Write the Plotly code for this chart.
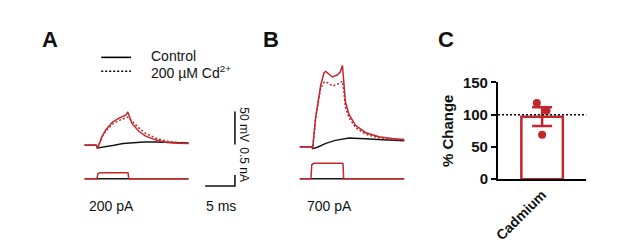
import plotly.graph_objects as go

W, H = 617, 243
RED = "#c3262b"
BLACK = "#151515"
FONT = "Arial, 'Liberation Sans', Helvetica, sans-serif"

# ---------------- data ----------------
# Panel A: 200 pA injection. time (ms), membrane potential (mV)
a_time = [0, 2.0, 2.2, 3.0, 3.6, 4.7, 5.8, 6.95, 7.3, 8.0, 9.2, 10.3, 11.95, 13.6, 15.8, 17.5]
a_ctrl = [-65, -65, -69.9, -51.2, -41.8, -30.1, -23.9, -19.6, -14.5, -31.9, -44.2, -51.2, -56.8, -60.5, -61.9, -62.2]
a_cd = [-65, -65, -69.9, -52.0, -43.5, -33.0, -27.5, -24.0, -22.5, -28.5, -39.0, -47.0, -54.0, -58.5, -61.2, -62.0]
a_black_time = [0, 2.0, 2.2, 3.5, 5.0, 6.5, 8.0, 10.0, 12.0, 14.0, 17.5]
a_black = [-65, -65, -69, -67.5, -65, -62.5, -61, -60, -60, -60.5, -61.5]

# Panel B: 700 pA injection
b_time = [0, 2.0, 2.2, 2.7, 3.55, 4.1, 4.4, 5.0, 5.5, 6.3, 6.8, 7.2, 7.45, 7.7, 8.3, 9.4, 11.05, 13.3, 15.5, 17.6]
b_ctrl = [-65, -65, -67.3, -20.9, 28.0, 47.0, 49.0, 43.5, 40.5, 43.5, 47.5, 58.0, 26.1, 2.6, -16.2, -32.7, -43.5, -50.0, -52.8, -54.0]
b_cd = [-65, -65, -67.3, -20.9, 24.0, 32.5, 33.5, 29.5, 27.0, 29.0, 31.5, 34.0, 18.0, -5.0, -21.0, -36.0, -46.0, -51.5, -54.0, -55.0]
b_black_time = [0, 2.0, 2.2, 3.0, 4.4, 6.0, 8.3, 10.0, 11.0, 14.0, 17.6]
b_black = [-65, -65, -68, -66, -60, -55.5, -52, -52, -53, -54.5, -56]

# injected current steps (pA)
a_cur_time = [0, 2.1, 2.3, 2.6, 7.1, 7.35, 7.45, 17.5]
a_cur = [0, 0, 170, 200, 200, 190, 0, 0]
b_cur_time = [0, 1.9, 2.05, 2.4, 7.1, 7.3, 7.4, 17.6]
b_cur = [0, 0, 640, 700, 700, 680, 0, 0]
zero_time = [0, 17.5]
zero_cur = [0, 0]

# scale bars
scale_ms = 5
scale_mv = 50
scale_pa = 500

# Panel C
c_category = ["Cadmium"]
c_mean = [97]
c_sem = [14.5]
c_points = [118, 106, 69]
c_jitter = [-0.06, 0.05, 0.0]
c_ref_line = 100
c_ticks = [0, 50, 100, 150]

# ---------------- layout helpers ----------------
def fx(x):
    return x / W


def fy(y):
    return 1 - y / H


fig = go.Figure()

def line(x, y, xa, ya, color, dash=None, width=1.5):
    fig.add_trace(go.Scatter(x=x, y=y, xaxis=xa, yaxis=ya, mode="lines",
                             line=dict(color=color, width=width, dash=dash),
                             showlegend=False, hoverinfo="skip"))

# Panel A voltage
line(a_black_time, a_black, "x", "y", BLACK)
line(a_time, a_ctrl, "x", "y", RED)
line(a_time, a_cd, "x", "y", RED, dash="2px,2px")
# Panel B voltage
line(b_black_time, b_black, "x2", "y2", BLACK)
line(b_time, b_ctrl, "x2", "y2", RED)
line(b_time, b_cd, "x2", "y2", RED, dash="2px,2px")
# currents
line(zero_time, zero_cur, "x", "y3", BLACK)
line(a_cur_time, a_cur, "x", "y3", RED)
line(zero_time, zero_cur, "x2", "y4", BLACK)
line(b_cur_time, b_cur, "x2", "y4", RED)

# scale bars
SB_T = 25.3
SB_V0 = -64
SB_I0 = -330
line([SB_T, SB_T], [SB_V0, SB_V0 + scale_mv], "x", "y", BLACK, width=1.6)
line([SB_T - scale_ms, SB_T, SB_T], [SB_I0, SB_I0, SB_I0 + scale_pa], "x", "y5", BLACK, width=1.6)

# Panel C
fig.add_trace(go.Bar(x=[0], y=c_mean, width=0.47, xaxis="x6", yaxis="y6",
                     marker=dict(color="white", line=dict(color=RED, width=2.5)),
                     error_y=dict(type="data", array=c_sem, color=RED, thickness=2.5, width=10),
                     showlegend=False, hoverinfo="skip"))
fig.add_trace(go.Scatter(x=c_jitter, y=c_points, xaxis="x6", yaxis="y6", mode="markers",
                         marker=dict(color=RED, size=8), showlegend=False, hoverinfo="skip"))

hidden = dict(visible=False, fixedrange=True)
fig.update_layout(
    width=W, height=H, margin=dict(l=0, r=0, t=0, b=0), autosize=False,
    paper_bgcolor="white", plot_bgcolor="rgba(0,0,0,0)",
    font=dict(family=FONT, color="#111", size=14),
    xaxis=dict(hidden, domain=[fx(80), fx(240)], range=[0, 160 / 6], anchor="y"),
    yaxis=dict(hidden, domain=[fy(155), fy(95)], range=[-65 - 8.5 / 0.71, -65 + 51.5 / 0.71], anchor="x"),
    xaxis2=dict(hidden, domain=[fx(297), fx(405)], range=[0, 18], anchor="y2"),
    yaxis2=dict(hidden, domain=[fy(155), fy(55)], range=[-65 - 7 / 0.71, -65 + 93 / 0.71], anchor="x2"),
    yaxis3=dict(hidden, domain=[fy(200), fy(160)], range=[-17.5 / 0.0325, 22.5 / 0.0325], anchor="x"),
    yaxis4=dict(hidden, domain=[fy(200), fy(160)], range=[-17.5 / 0.0236, 22.5 / 0.0236], anchor="x2"),
    yaxis5=dict(hidden, domain=[fy(200), fy(160)], range=[-17.5 / 0.0236, 22.5 / 0.0236], anchor="x"),
    xaxis6=dict(domain=[fx(497), fx(586)], range=[-0.5, 0.5], anchor="y6",
                showline=True, linecolor="black", linewidth=2, ticks="",
                tickvals=[0], ticktext=c_category, tickangle=-45, showgrid=False, zeroline=False,
                tickfont=dict(family=FONT, size=14, color="#111", weight="bold"), fixedrange=True),
    yaxis6=dict(domain=[fy(183), fy(79)], range=[0, 150], anchor="x6",
                showline=True, linecolor="black", linewidth=2, ticks="outside", ticklen=5,
                tickwidth=2, tickcolor="black", tickvals=c_ticks, showgrid=False, zeroline=False,
                tickfont=dict(family=FONT, size=15, color="#111", weight="bold"),
                title=dict(text="% Change", standoff=6, font=dict(family=FONT, size=15, color="#111", weight="bold")),
                fixedrange=True),
)

fig.add_shape(type="line", xref="x6 domain", yref="y6", x0=0, x1=1, y0=c_ref_line, y1=c_ref_line,
              line=dict(color="black", width=1.5, dash="2px,2px"))

# legend (drawn)
fig.add_shape(type="line", xref="paper", yref="paper", x0=fx(97), x1=fx(127), y0=fy(52), y1=fy(52),
              line=dict(color="black", width=1.6))
fig.add_shape(type="line", xref="paper", yref="paper", x0=fx(97), x1=fx(127), y0=fy(67), y1=fy(67),
              line=dict(color="black", width=1.6, dash="2px,2px"))

def ann(text, x, y, size=14, bold=False, xanchor="left", angle=0):
    fig.add_annotation(text=text, x=fx(x), y=fy(y), xref="paper", yref="paper", showarrow=False,
                       xanchor=xanchor, yanchor="middle", textangle=angle,
                       font=dict(family=FONT, size=size, color="#111", weight="bold" if bold else "normal"))

ann("Control", 145, 50)
ann("200 µM Cd<sup>2+</sup>", 145, 68)
ann("A", 45, 33, size=22, bold=True, xanchor="center")
ann("B", 268, 33, size=22, bold=True, xanchor="center")
ann("C", 445, 33, size=22, bold=True, xanchor="center")
ann("200 pA", 107, 212, xanchor="center")
ann("700 pA", 327, 212, xanchor="center")
ann("5 ms", 218, 212, xanchor="center")
ann("50 mV", 241, 124, size=12, xanchor="center", angle=90)
ann("0.5 nA", 241, 167, size=12, xanchor="center", angle=90)

fig.write_html("out.html", config={"displayModeBar": False},
               post_script="document.body.style.margin='0';document.body.style.overflow='hidden';")
